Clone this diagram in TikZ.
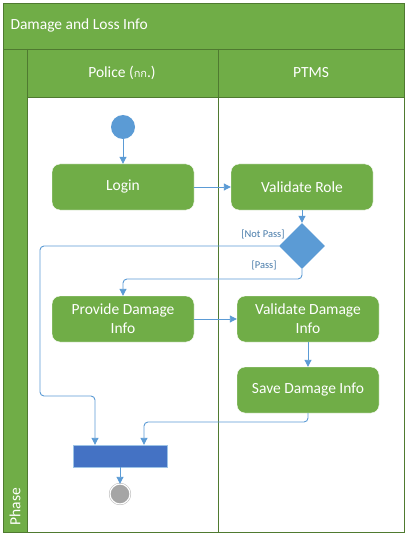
\documentclass[tikz,border=0pt]{standalone}
\usepackage{fontspec}
\setmainfont{Carlito}
\newfontfamily\thaifont[Script=Thai]{Loma}
\usepackage{xcolor}
\usetikzlibrary{
    arrows.meta,
    shapes.geometric,
    calc,
    positioning
}
\definecolor{lanegreen}{HTML}{70AD47}
\definecolor{linegreen}{HTML}{4F7A30}
\definecolor{flowblue}{HTML}{5B9BD5}
\definecolor{barblue}{HTML}{4472C4}
\definecolor{endgray}{HTML}{A5A5A5}
\tikzset{
    action/.style={rectangle, rounded corners=8pt, fill=lanegreen, draw=white,
        text=white, minimum width=142pt, minimum height=46pt, align=center,
        font=\fontsize{15.5}{19}\selectfont},
    flow/.style={draw=flowblue, line width=0.9pt, rounded corners=4pt,
        -{Triangle[length=7pt,width=7pt]}},
    guard/.style={text=flowblue!80!black, font=\fontsize{10.5}{12}\selectfont}
}

\begin{document}
\begin{tikzpicture}[x=1pt, y=-1pt]
    \useasboundingbox (0,0) rectangle (405,537);
    % frame and lanes
    \fill[white] (3,3) rectangle (404,532);
    \fill[lanegreen] (3,3) rectangle (404,49);
    \fill[lanegreen] (3,49) rectangle (27,532);
    \fill[lanegreen] (27,49) rectangle (404,97);
    \draw[linegreen, line width=0.8pt]
        (3,3) rectangle (404,532)
        (3,49) -- (404,49)
        (27,97) -- (404,97)
        (27,49) -- (27,532)
        (218,49) -- (218,532);
    \node[anchor=west, text=white, font=\fontsize{15.5}{19}\selectfont] (title) at (7,25) {Damage and Loss Info};
    \node[text=white, font=\fontsize{15.5}{19}\selectfont] (police) at (122,73) {Police ({\thaifont\fontsize{11}{13}\selectfont กก}.)};
    \node[text=white, font=\fontsize{15.5}{19}\selectfont] (ptms) at (311,73) {PTMS};
    \node[text=white, rotate=90, anchor=west, font=\fontsize{15.5}{19}\selectfont] (phase) at (15,529) {Phase};

    % activities
    \node[circle, fill=flowblue, minimum size=24pt, inner sep=0pt] (start) at (123,127) {};
    \node[action] (login) at (123,187) {Login};
    \node[action] (role) at (302,187) {Validate Role};
    \node[diamond, fill=flowblue, minimum width=46pt, minimum height=46pt, inner sep=0pt] (dec) at (302,246) {};
    \node[action] (provide) at (123,319) {Provide Damage\\Info};
    \node[action] (check) at (308,319) {Validate Damage\\Info};
    \node[action] (save) at (308,390) {Save Damage Info};
    \node[rectangle, fill=barblue, draw=flowblue!60, minimum width=94pt, minimum height=22pt, inner sep=0pt] (join) at (120,456) {};
    \node[circle, fill=endgray, draw=endgray, double=white, double distance=1.2pt, minimum size=20pt, inner sep=0pt] (stop) at (120,494) {};

    \coordinate (nl) at (40,396);
    \coordinate (nr) at (95,396);
    \coordinate (pl) at (123,279);
    \coordinate (sl) at (144,422);

    % connectors
    \draw[flow] (start) -- (login);
    \draw[flow] (login) -- (role);
    \draw[flow] (role) -- (dec);
    \draw[flow] (dec.west) -| (nl) -- (nr) -- (nr |- join.north);
    \draw[flow] (dec.south) |- (pl) -- (provide.north);
    \draw[flow] (provide) -- (check);
    \draw[flow] (check) -- (save);
    \draw[flow] (save.south) |- (sl) -- (sl |- join.north);
    \draw[flow] (join) -- (stop);

    \node[guard, anchor=east] (notpass) at (288,234) {[Not Pass]};
    \node[guard, anchor=east] (pass) at (280,265) {[Pass]};
\end{tikzpicture}
\end{document}
